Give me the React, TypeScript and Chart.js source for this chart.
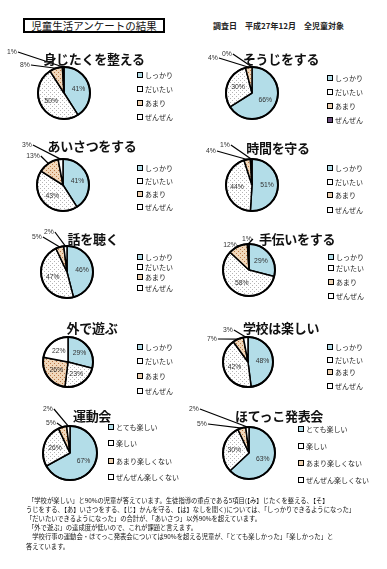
import React, { useEffect, useRef } from "react";
import { Chart, registerables } from "chart.js";
Chart.register(...registerables);

// ---- data ----
const habitLabels = ["しっかり", "だいたい", "あまり", "ぜんぜん"];
const eventLabels = ["とても楽しい", "楽しい", "あまり楽しくない", "ぜんぜん楽しくない"];

const mijitakuValues = [41, 50, 8, 1];
const soujiValues = [66, 30, 4, 0];
const aisatsuValues = [41, 43, 13, 3];
const jikanValues = [51, 44, 4, 1];
const hanashiValues = [46, 47, 5, 2];
const tetsudaiValues = [29, 58, 12, 1];
const sotoValues = [29, 23, 26, 22];
const gakkouValues = [48, 42, 7, 3];
const undoukaiValues = [67, 26, 5, 2];
const hotekkoValues = [63, 30, 5, 2];

const chartTitles = [
  "身じたくを整える", "そうじをする", "あいさつをする", "時間を守る", "話を聴く",
  "手伝いをする", "外で遊ぶ", "学校は楽しい", "運動会", "ほてっこ発表会",
];

const headerTitle = "児童生活アンケートの結果";
const headerDate = "調査日　平成27年12月　全児童対象";
const noteLines = [
  "「学校が楽しい」と90%の児童が答えています。生徒指導の重点である5項目(【み】じたくを整える、【そ】",
  "うじをする、【あ】いさつをする、【じ】かんを守る、【は】なしを聞く)については、「しっかりできるようになった」",
  "「だいたいできるようになった」の合計が、「あいさつ」以外90%を超えています。",
  "「外で遊ぶ」の達成度が低いので、これが課題と言えます。",
  "　学校行事の運動会・ほてっこ発表会については90%を超える児童が、「とても楽しかった」「楽しかった」と",
  "答えています。",
];

// ---- layout (positions / styles, separate from data) ----
type Layout = {
  x: number; y: number; w: number; h: number;
  cx: number; cy: number; r: number;
  tx: number; ty: number;
  lx: number; ly: number[];
  outside: (number[] | null)[];
  lastSwatch?: string;
};

const layouts: Layout[] = [
  { x: 0, y: 40, w: 190, h: 95, cx: 64, cy: 53, r: 26, tx: 94, ty: 18, lx: 137, ly: [35, 49, 63, 77], outside: [null, null, [-39, -28], [-52, -41]] },
  { x: 190, y: 40, w: 197, h: 95, cx: 62, cy: 53, r: 26, tx: 91, ty: 18, lx: 137, ly: [38, 52, 66, 80], outside: [null, null, [-39, -35], [-25, -39]], lastSwatch: "#6e4f80" },
  { x: 0, y: 130, w: 190, h: 95, cx: 63, cy: 55, r: 26, tx: 92, ty: 15, lx: 137, ly: [38, 51, 64, 77], outside: [null, null, [-30, -29], [-36, -40]] },
  { x: 190, y: 130, w: 197, h: 95, cx: 62, cy: 55, r: 26, tx: 88, ty: 17, lx: 137, ly: [38, 52, 65, 80], outside: [null, null, [-41, -34], [-27, -40]] },
  { x: 0, y: 225, w: 190, h: 95, cx: 67, cy: 47, r: 26, tx: 93, ty: 13, lx: 137, ly: [32, 42, 52, 63], outside: [null, null, [-30, -35], [-18, -40]] },
  { x: 190, y: 225, w: 197, h: 95, cx: 59, cy: 45, r: 26, tx: 107, ty: 13, lx: 138, ly: [32, 43, 57, 71], outside: [null, null, [-19, -25], [-2, -31]] },
  { x: 0, y: 315, w: 190, h: 95, cx: 68, cy: 47, r: 25, tx: 92, ty: 12, lx: 137, ly: [32, 46, 61, 76], outside: [null, null, null, null] },
  { x: 190, y: 315, w: 197, h: 95, cx: 58, cy: 47, r: 25, tx: 91, ty: 12, lx: 137, ly: [32, 45, 57, 71], outside: [null, null, [-36, -23], [-20, -32]] },
  { x: 0, y: 400, w: 190, h: 95, cx: 70, cy: 53, r: 27, tx: 92, ty: 15, lx: 108, ly: [27, 43, 61, 77], outside: [null, null, [-19, -30], [-22, -44]] },
  { x: 190, y: 400, w: 197, h: 95, cx: 59, cy: 53, r: 26, tx: 89, ty: 15, lx: 108, ly: [29, 46, 63, 80], outside: [null, null, [-47, -29], [-55, -44]] },
];

const BLUE = "#b3dde8";
const JP = '"Noto Sans CJK JP", "Noto Sans", sans-serif';
const EXTRA = 14; // canvas extends this far to the left of its block so outside labels are not clipped

function makePattern(bg: string, dot: string): CanvasPattern | string {
  const c = document.createElement("canvas");
  c.width = 4; c.height = 4;
  const g = c.getContext("2d");
  if (!g) return bg;
  g.fillStyle = bg; g.fillRect(0, 0, 4, 4);
  g.fillStyle = dot;
  g.fillRect(0, 0, 1, 1);
  g.fillRect(2, 2, 1, 1);
  const p = g.createPattern(c, "repeat");
  return p || bg;
}

const swatchCss = [
  { background: BLUE },
  { background: "#fff", backgroundImage: "radial-gradient(#aaa 0.5px, transparent 0.6px)", backgroundSize: "2px 2px" },
  { background: "#efd3b3", backgroundImage: "radial-gradient(#b0703c 0.5px, transparent 0.6px)", backgroundSize: "2px 2px" },
  { background: "#fff" },
];

function PieBlock(props: { title: string; labels: string[]; values: number[]; layout: Layout }) {
  const { title, labels, values, layout } = props;
  const ref = useRef<HTMLCanvasElement>(null);
  const cw = layout.w + EXTRA;
  useEffect(() => {
    const canvas = ref.current;
    if (!canvas) return;
    const bw = 1.5;
    const rr = layout.r + bw / 2;
    const cxc = layout.cx + EXTRA;
    const dotted = makePattern("#ffffff", "#b4b4b4");
    const tan = makePattern("#f1d8bb", "#bb7a48");
    const colors: any[] = [BLUE, dotted, tan, "#ffffff"];
    const labelPlugin = {
      id: "pctLabels",
      afterDatasetsDraw(chart: any) {
        const ctx = chart.ctx as CanvasRenderingContext2D;
        const meta = chart.getDatasetMeta(0);
        ctx.save();
        const first = meta.data[0].getProps(["x", "y", "outerRadius"], true);
        ctx.beginPath();
        ctx.arc(first.x, first.y, first.outerRadius, 0, Math.PI * 2);
        ctx.lineWidth = 2;
        ctx.strokeStyle = "#000";
        ctx.stroke();
        ctx.font = '6.8px "Liberation Sans", Arial, sans-serif';
        ctx.fillStyle = "#333";
        ctx.textAlign = "center";
        ctx.textBaseline = "middle";
        meta.data.forEach((el: any, i: number) => {
          const p = el.getProps(["x", "y", "startAngle", "endAngle", "outerRadius"], true);
          const mid = (p.startAngle + p.endAngle) / 2;
          const text = values[i] + "%";
          const off = layout.outside[i];
          if (off) {
            const lx = p.x + off[0];
            const ly = p.y + off[1];
            const tw = ctx.measureText(text).width;
            ctx.fillText(text, lx, ly);
            const ex = p.x + Math.cos(mid) * p.outerRadius;
            const ey = p.y + Math.sin(mid) * p.outerRadius;
            ctx.beginPath();
            ctx.moveTo(lx + tw / 2 + 1, ly);
            ctx.lineTo(ex, ey);
            ctx.lineWidth = 1.2;
            ctx.strokeStyle = "#000";
            ctx.stroke();
          } else {
            const d = p.outerRadius * 0.58;
            ctx.fillText(text, p.x + Math.cos(mid) * d, p.y + Math.sin(mid) * d);
          }
        });
        ctx.restore();
      },
    };
    const chart = new Chart(canvas, {
      type: "pie",
      data: {
        labels,
        datasets: [{ data: values, backgroundColor: colors, borderColor: "#000", borderWidth: bw }],
      },
      options: {
        responsive: false,
        animation: false,
        events: [],
        layout: {
          padding: {
            left: cxc - rr,
            top: layout.cy - rr,
            right: cw - cxc - rr,
            bottom: layout.h - layout.cy - rr,
          },
        },
        plugins: { legend: { display: false }, tooltip: { enabled: false }, title: { display: false } },
      },
      plugins: [labelPlugin],
    } as any);
    return () => chart.destroy();
  }, []);

  return (
    <div style={{ position: "absolute", left: layout.x, top: layout.y, width: layout.w, height: layout.h }}>
      <canvas ref={ref} width={cw} height={layout.h}
        style={{ position: "absolute", left: -EXTRA, top: 0, width: cw, height: layout.h }} />
      <div style={{
        position: "absolute", left: layout.tx, top: layout.ty, transform: "translate(-50%, -50%)",
        whiteSpace: "nowrap", fontFamily: JP, fontSize: 13, fontWeight: 700, letterSpacing: -0.3, color: "#111",
      }}>{title}</div>
      {labels.map((lab, i) => (
        <div key={i} style={{
          position: "absolute", left: layout.lx, top: layout.ly[i], transform: "translateY(-50%)",
          display: "flex", alignItems: "center", whiteSpace: "nowrap",
        }}>
          <span style={{
            display: "inline-block", width: 4, height: 4, border: "1.3px solid #000",
            ...(i === 3 && layout.lastSwatch ? { background: layout.lastSwatch } : swatchCss[i]),
          }} />
          <span style={{ marginLeft: 2, fontFamily: JP, fontSize: 7, color: "#222" }}>{lab}</span>
        </div>
      ))}
    </div>
  );
}

export default function App() {
  const valueSets = [
    mijitakuValues, soujiValues, aisatsuValues, jikanValues, hanashiValues,
    tetsudaiValues, sotoValues, gakkouValues, undoukaiValues, hotekkoValues,
  ];
  return (
    <div style={{ position: "absolute", left: 0, top: 0, width: 387, height: 569, background: "#fff", overflow: "hidden" }}>
      <div style={{
        position: "absolute", left: 23, top: 18, width: 138, height: 11, border: "2px solid #000",
        fontFamily: JP, fontSize: 10.5, lineHeight: "11px", textAlign: "center", color: "#111", whiteSpace: "nowrap",
      }}>{headerTitle}</div>
      <div style={{
        position: "absolute", left: 213, top: 25, transform: "translateY(-50%)",
        fontFamily: JP, fontSize: 8, fontWeight: 700, color: "#222", whiteSpace: "nowrap",
      }}>{headerDate}</div>
      {layouts.map((lay, i) => (
        <PieBlock key={i} title={chartTitles[i]} values={valueSets[i]}
          labels={i >= 8 ? eventLabels : habitLabels} layout={lay} />
      ))}
      {noteLines.map((line, i) => (
        <div key={i} style={{
          position: "absolute", left: i === 0 || i === 3 ? 28 : 26, top: [500, 509, 518, 527, 536, 546][i],
          transform: "translateY(-50%)", fontFamily: JP, fontSize: 6.3, color: "#111", whiteSpace: "nowrap",
        }}>{line}</div>
      ))}
    </div>
  );
}
